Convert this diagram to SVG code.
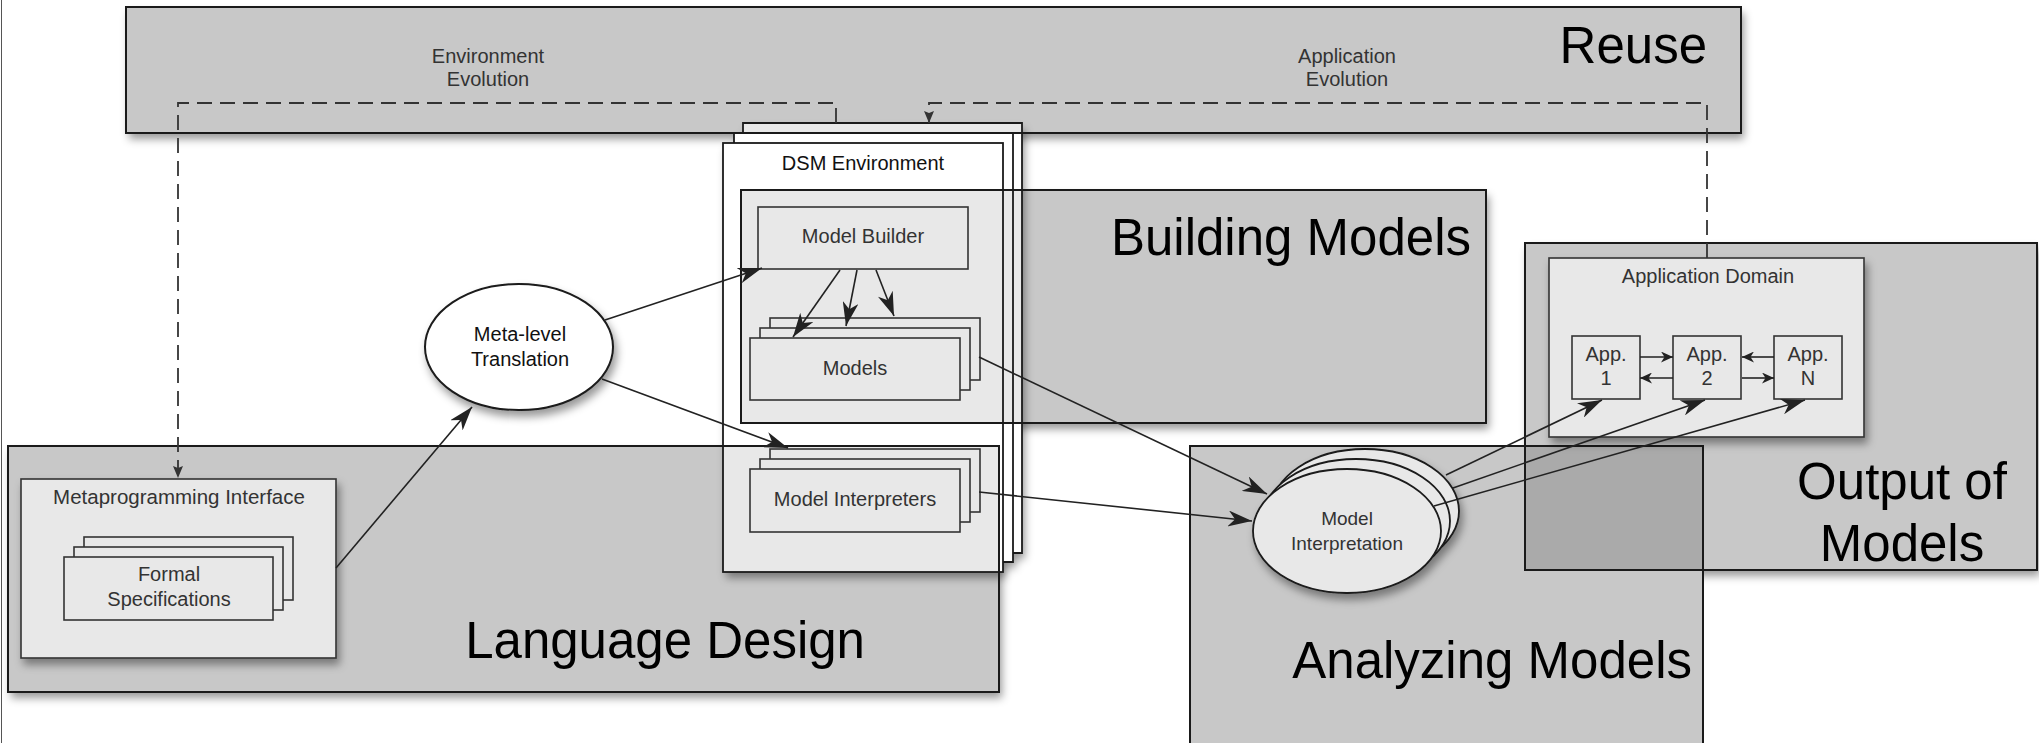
<svg xmlns="http://www.w3.org/2000/svg" width="2039" height="743" viewBox="0 0 2039 743">
<style>
.grp{fill:#c8c8c8;stroke:none}
.grpo{fill:none;stroke:#1a1a1a;stroke-width:2}
.panel{fill:#e8e8e8;stroke:#333;stroke-width:1.6}
.sheet{fill:#fff;stroke:none}
.sheeto{fill:none;stroke:#1a1a1a;stroke-width:1.8}
.title{font-family:"Liberation Sans",Arial,sans-serif;font-size:51px;fill:#000}
.lbl{font-family:"Liberation Sans",Arial,sans-serif;font-size:20px;fill:#333;text-anchor:middle}
.lbls{font-family:"Liberation Sans",Arial,sans-serif;font-size:19px;fill:#333;text-anchor:middle}
.conn{fill:none;stroke:#222;stroke-width:1.6}
.dash{fill:none;stroke:#333;stroke-width:1.8;stroke-dasharray:15 8}
</style>
<defs>
<filter id="sh" x="-10%" y="-10%" width="130%" height="140%">
<feDropShadow dx="3" dy="6" stdDeviation="4" flood-color="#000" flood-opacity="0.4"/>
</filter>
<clipPath id="dsmClip">
<rect x="743" y="123" width="279" height="430"/>
<rect x="734" y="133" width="279" height="429"/>
<rect x="723" y="143" width="280" height="429"/>
</clipPath>
<marker id="ah" viewBox="0 0 24 16" refX="24" refY="8" markerWidth="24" markerHeight="16" orient="auto" markerUnits="userSpaceOnUse">
<path d="M0,0 L24,8 L0,16 L7,8 z" fill="#222"/>
</marker>
<marker id="ahs" viewBox="0 0 12 11" refX="12" refY="5.5" markerWidth="12" markerHeight="11" orient="auto" markerUnits="userSpaceOnUse">
<path d="M0,0 L12,5.5 L0,11 L3.5,5.5 z" fill="#222"/>
</marker>
<marker id="ahd" viewBox="0 0 12 10" refX="12" refY="5" markerWidth="12" markerHeight="10" orient="auto" markerUnits="userSpaceOnUse">
<path d="M0,0 L12,5 L0,10 L2,5 z" fill="#333"/>
</marker>
</defs>
<rect x="0" y="0" width="2039" height="743" fill="#fff"/>
<line x1="1.5" y1="0" x2="1.5" y2="743" stroke="#555" stroke-width="1"/>

<!-- group boxes: fills -->
<g id="reuse-fill" filter="url(#sh)"><rect class="grp" x="126" y="7" width="1615" height="126"/></g>
<g id="building-fill" filter="url(#sh)"><rect class="grp" x="741" y="190" width="745" height="233"/></g>
<g id="language-fill" filter="url(#sh)"><rect class="grp" x="8" y="446" width="991" height="246"/></g>
<g id="output-fill" filter="url(#sh)"><rect class="grp" x="1525" y="243" width="512" height="327"/></g>
<g id="analyzing-fill"><rect class="grp" x="1190" y="446" width="513" height="320"/></g>
<rect x="1525" y="446" width="178" height="124" fill="#aaaaaa"/>

<!-- DSM environment stack -->
<g id="dsm-environment">
<g filter="url(#sh)">
<rect class="sheet" x="743" y="123" width="279" height="430"/>
<rect class="sheet" x="734" y="133" width="279" height="429"/>
<rect class="sheet" x="723" y="143" width="280" height="429"/>
</g>
<g clip-path="url(#dsmClip)" fill="#e8e8e8">
<rect x="126" y="7" width="1615" height="126"/>
<rect x="741" y="190" width="745" height="233"/>
<rect x="8" y="446" width="991" height="246"/>
</g>
<path class="sheeto" d="M743,133 L743,123 L1022,123 L1022,553 L1013,553"/>
<path class="sheeto" d="M734,143 L734,133 L1013,133 L1013,562 L1003,562"/>
<rect class="sheeto" x="723" y="143" width="280" height="429"/>
<text x="863" y="170" class="lbl" style="fill:#111">DSM Environment</text>
</g>

<!-- group boxes: outlines and titles -->
<g id="reuse"><rect class="grpo" x="126" y="7" width="1615" height="126"/><text class="title" x="1707" y="63" text-anchor="end">Reuse</text></g>
<g id="building-models"><rect class="grpo" x="741" y="190" width="745" height="233"/><text class="title" x="1471" y="255" text-anchor="end">Building Models</text></g>
<g id="language-design"><rect class="grpo" x="8" y="446" width="991" height="246"/><text class="title" x="865" y="658" text-anchor="end">Language Design</text></g>
<g id="output-of-models"><rect class="grpo" x="1525" y="243" width="512" height="327"/><text class="title" x="1902" y="499" text-anchor="middle">Output of</text><text class="title" x="1902" y="561" text-anchor="middle">Models</text></g>
<g id="analyzing-models"><rect class="grpo" x="1190" y="446" width="513" height="320"/><text class="title" x="1692" y="678" text-anchor="end">Analyzing Models</text></g>

<!-- nodes -->
<g id="model-builder"><rect class="panel" x="758" y="207" width="210" height="62"/><text class="lbl" x="863" y="243">Model Builder</text></g>
<g id="models">
<rect class="panel" x="770" y="318" width="210" height="62"/>
<rect class="panel" x="760" y="328" width="210" height="62"/>
<rect class="panel" x="750" y="338" width="210" height="62"/>
<text class="lbl" x="855" y="375">Models</text>
</g>
<g id="model-interpreters">
<rect class="panel" x="770" y="449" width="210" height="63"/>
<rect class="panel" x="760" y="459" width="210" height="63"/>
<rect class="panel" x="750" y="469" width="210" height="63"/>
<text class="lbl" x="855" y="506">Model Interpreters</text>
</g>
<g id="meta-level-translation" filter="url(#sh)">
<ellipse cx="519" cy="347" rx="94" ry="63" fill="#fff" stroke="#1a1a1a" stroke-width="2"/>
</g>
<g id="meta-level-translation-label"><text class="lbl" x="520" y="341" style="fill:#111">Meta-level</text><text class="lbl" x="520" y="366" style="fill:#111">Translation</text></g>
<g id="metaprogramming-interface" filter="url(#sh)"><rect class="panel" x="21" y="479" width="315" height="179"/></g>
<g id="metaprogramming-interface-label"><text class="lbl" x="179" y="504" style="font-size:20.5px">Metaprogramming Interface</text></g>
<g id="formal-specifications">
<rect class="panel" x="84" y="537" width="209" height="63"/>
<rect class="panel" x="74" y="547" width="209" height="63"/>
<rect class="panel" x="64" y="557" width="209" height="63"/>
<text class="lbl" x="169" y="581">Formal</text><text class="lbl" x="169" y="606">Specifications</text>
</g>
<g id="application-domain" filter="url(#sh)"><rect class="panel" x="1549" y="258" width="315" height="179"/></g>
<g id="application-domain-label"><text class="lbl" x="1708" y="283">Application Domain</text></g>
<g id="app-1"><rect class="panel" x="1572" y="336" width="68" height="63"/><text class="lbl" x="1606" y="361">App.</text><text class="lbl" x="1606" y="385">1</text></g>
<g id="app-2"><rect class="panel" x="1673" y="336" width="68" height="63"/><text class="lbl" x="1707" y="361">App.</text><text class="lbl" x="1707" y="385">2</text></g>
<g id="app-n"><rect class="panel" x="1774" y="336" width="68" height="63"/><text class="lbl" x="1808" y="361">App.</text><text class="lbl" x="1808" y="385">N</text></g>
<g id="model-interpretation">
<g filter="url(#sh)">
<ellipse cx="1365" cy="511" rx="94" ry="62" fill="#e8e8e8" stroke="#1a1a1a" stroke-width="1.8"/>
<ellipse cx="1356" cy="521" rx="94" ry="62" fill="#e8e8e8" stroke="#1a1a1a" stroke-width="1.8"/>
<ellipse cx="1347" cy="531" rx="94" ry="62" fill="#e8e8e8" stroke="#1a1a1a" stroke-width="1.8"/>
</g>
<text class="lbls" x="1347" y="525">Model</text><text class="lbls" x="1347" y="550">Interpretation</text>
</g>
<g id="environment-evolution-label"><text class="lbl" x="488" y="63">Environment</text><text class="lbl" x="488" y="86">Evolution</text></g>
<g id="application-evolution-label"><text class="lbl" x="1347" y="63">Application</text><text class="lbl" x="1347" y="86">Evolution</text></g>

<!-- connectors -->
<g id="connectors">
<path class="conn" d="M336,568 L472,407" marker-end="url(#ah)"/>
<path class="conn" d="M605,320 L762,268" marker-end="url(#ah)"/>
<path class="conn" d="M602,379 L788,448" marker-end="url(#ah)"/>
<path class="conn" d="M840,270 L793,337" marker-end="url(#ah)"/>
<path class="conn" d="M857,270 L846,326" marker-end="url(#ah)"/>
<path class="conn" d="M876,270 L894,316" marker-end="url(#ah)"/>
<path class="conn" d="M979,357 L1267,494" marker-end="url(#ah)"/>
<path class="conn" d="M979,492 L1252,521" marker-end="url(#ah)"/>
<path class="conn" d="M1446,475 L1602,400" marker-end="url(#ah)"/>
<path class="conn" d="M1453,488 L1705,400" marker-end="url(#ah)"/>
<path class="conn" d="M1434,506 L1805,400" marker-end="url(#ah)"/>
<path class="conn" d="M1640,357 L1673,357" marker-end="url(#ahs)"/>
<path class="conn" d="M1673,378 L1640,378" marker-end="url(#ahs)"/>
<path class="conn" d="M1774,357 L1742,357" marker-end="url(#ahs)"/>
<path class="conn" d="M1742,378 L1774,378" marker-end="url(#ahs)"/>
<path class="dash" d="M836,123 L836,103 L178,103 L178,478" marker-end="url(#ahd)"/>
<path class="dash" d="M1707,258 L1707,103 L929,103 L929,123" marker-end="url(#ahd)"/>
</g>
</svg>
